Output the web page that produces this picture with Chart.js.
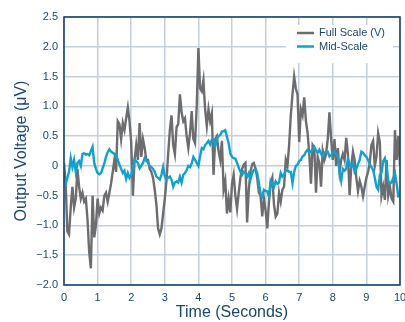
<!DOCTYPE html>
<html>
<head>
<meta charset="utf-8">
<script src="https://cdn.jsdelivr.net/npm/chart.js@4.4.0/dist/chart.umd.min.js"></script>
<style>
  html, body { margin: 0; padding: 0; background: #fff; }
  #wrap { width: 405px; height: 322px; }
</style>
</head>
<body>
<div id="wrap"><canvas id="noiseChart" width="405" height="322"></canvas></div>
<script>
// sample spacing of the traces, seconds
const sampleStep = 0.05;

const xTicks = [0, 1, 2, 3, 4, 5, 6, 7, 8, 9, 10];
const yTicks = [-2.0, -1.5, -1.0, -0.5, 0, 0.5, 1.0, 1.5, 2.0, 2.5];

const seriesNames = ['Full Scale (V)', 'Mid-Scale'];

// output voltage, uV, one value every 0.05 s from 0 to 10 s
const fullScale = [
  0.05, -0.3, -1.1, -1.15, -0.7, -0.35, -0.7, -0.55, -0.05, -0.35,
  -0.55, -0.45, -0.6, -0.55, -0.9, -1.45, -1.72, -0.5, -1.2, -1.0,
  -0.55, -0.8, -0.7, -0.75, -0.5, -0.45, -0.6, -0.45, -0.3, -0.1,
  0.1, -0.1, 0.75, 0.7, 0.45, 0.72, 0.6, 0.8, 0.98, 0.75,
  0.4, -0.5, 0.1, 0.35, 0.1, 0.72, 0.15, 0.45, 0.3, 0.1,
  0.1, -0.05, -0.1, -0.2, -0.4, -0.65, -1.05, -1.15, -1.05, -0.8,
  -0.55, -0.25, 0.2, 0.6, 0.85, 0.35, 0.2, 0.65, 0.7, 1.2,
  0.9, 0.75, 0.8, 0.5, 0.3, 0.55, 0.92, 0.45, 0.38, 1.0,
  1.98, 1.3, 1.25, 1.44, 0.95, 0.67, 0.95, 0.75, 0.88, -0.15,
  0.45, 0.5, 0.25, 0.1, 0.42, -0.4, -0.25, -0.8, -0.55, -0.78,
  -0.3, -0.15, -0.5, -0.72, -0.45, -0.2, -0.05, 0.02, 0.05, -0.95,
  -0.4, -0.1, 0.03, 0.05, -0.05, -0.2, -0.45, -0.5, -0.85, -0.55,
  -0.75, -1.05, -0.6, -0.3, -0.2, -0.65, -0.85, -0.8, -0.45, -0.6,
  -0.4, -0.35, 0.1, 0.0, 0.35, 0.85, 1.2, 1.5, 1.3, 1.2,
  0.4, 0.95, 0.85, 1.15, 0.75, 0.55, 0.2, -0.3, 0.35, 0.3,
  -0.45, 0.15, 0.05, -0.35, 0.25, 0.1, 0.2, 0.45, 0.9, 0.45,
  0.1, 0.45, 0.0, 0.3, -0.1, 0.1, 0.2, 0.1, 0.47, 0.2,
  -0.49, 0.0, 0.24, 0.1, -0.2, -0.42, -0.25, -0.35, -0.51, -0.35,
  -0.2, -0.1, 0.05, 0.35, 0.42, 0.0, 0.15, 0.55, 0.4, -0.5,
  -0.35, -0.57, 0.1, -0.5, -0.35, -0.55, -0.6, 0.6, 0.1, 0.5,
  0.0
];

const midScale = [
  -0.2, -0.3, -0.2, -0.1, 0.13, -0.02, 0.1, -0.1, 0.05, 0.08,
  0.0, 0.2, 0.21, 0.19, 0.2, 0.18, 0.25, 0.32, 0.05, -0.05,
  -0.12, -0.14, -0.12, -0.04, 0.04, 0.15, 0.23, 0.28, 0.24, 0.22,
  0.2, 0.19, 0.1, 0.02, -0.05, -0.12, -0.08, -0.22, -0.12, -0.2,
  -0.15, -0.05, 0.1, 0.08, 0.05, -0.04, 0.0, 0.05, 0.13, 0.08,
  0.06, 0.0, -0.02, -0.05, -0.1, -0.18, -0.2, -0.23, -0.15, -0.02,
  -0.18, -0.22, -0.2, -0.18, -0.23, -0.35, -0.28, -0.26, -0.28, -0.18,
  -0.28, -0.15, -0.12, -0.07, 0.0, -0.02, 0.04, 0.15, 0.1, 0.05,
  0.0, 0.16, 0.3, 0.28, 0.35, 0.38, 0.42, 0.36, 0.44, 0.44,
  0.33, 0.46, 0.5, 0.52, 0.58, 0.58, 0.6, 0.49, 0.38, 0.21,
  0.15, 0.13, 0.12, 0.05, -0.03, -0.1, -0.15, -0.1, -0.12, -0.18,
  -0.12, -0.23, -0.12, -0.07, -0.05, -0.12, -0.29, -0.46, -0.51, -0.4,
  -0.42, -0.43, -0.51, -0.25, -0.3, -0.35, -0.26, -0.3, -0.28, -0.12,
  -0.18, -0.15, -0.07, -0.08, -0.1, -0.1, -0.29, -0.1, 0.0, 0.02,
  0.08, 0.1, 0.16, 0.18, 0.24, 0.27, 0.22, 0.24, 0.28, 0.32,
  0.26, 0.22, 0.27, 0.2, 0.16, 0.22, 0.24, 0.24, 0.16, 0.18,
  0.22, 0.24, 0.2, 0.16, -0.1, -0.25, -0.05, -0.08, -0.05, 0.12,
  0.02, -0.02, 0.05, -0.1, -0.05, 0.03, 0.1, 0.24, 0.22, 0.18,
  0.15, 0.1, 0.03, -0.02, -0.07, -0.2, -0.35, -0.4, -0.15, -0.12,
  0.08, 0.13, -0.02, -0.25, -0.3, -0.28, -0.2, -0.12, -0.3, -0.51,
  -0.5
];

const seriesColors = ['#6d6d70', '#12a1cd'];
const navy = '#1b4571';
const gridColor = '#c3cfdb';
const fontFamily = '"Liberation Sans", Arial, Helvetica, sans-serif';

function toPoints(values) {
  return values.map((v, i) => ({ x: i * sampleStep, y: v }));
}

function fmtVolt(v) {
  if (v === 0) return '0';
  return v.toFixed(1).replace('-', '\u2212');
}

// white legend box sitting inside the plot, plus the dark frame
const frameAndLegend = {
  id: 'frameAndLegend',
  afterDatasetsDraw(chart) {
    const { ctx, chartArea: a } = chart;
    ctx.save();
    ctx.fillStyle = '#fff';
    ctx.fillRect(286, 25, 107, 38);
    ctx.font = '11px ' + fontFamily;
    ctx.textBaseline = 'middle';
    chart.data.datasets.forEach((ds, i) => {
      const y = 33 + i * 13.5;
      ctx.strokeStyle = ds.borderColor;
      ctx.lineWidth = 2.5;
      ctx.beginPath();
      ctx.moveTo(297, y);
      ctx.lineTo(314, y);
      ctx.stroke();
      ctx.fillStyle = navy;
      ctx.fillText(ds.label, 319, y);
    });
    ctx.strokeStyle = navy;
    ctx.lineWidth = 1.6;
    ctx.strokeRect(a.left, a.top, a.right - a.left, a.bottom - a.top);
    ctx.restore();
  }
};

new Chart(document.getElementById('noiseChart').getContext('2d'), {
  type: 'line',
  data: {
    datasets: [
      {
        label: seriesNames[0],
        data: toPoints(fullScale),
        borderColor: seriesColors[0],
        borderWidth: 2.4,
        pointRadius: 0,
        tension: 0,
        order: 2
      },
      {
        label: seriesNames[1],
        data: toPoints(midScale),
        borderColor: seriesColors[1],
        borderWidth: 2.4,
        pointRadius: 0,
        tension: 0,
        order: 1
      }
    ]
  },
  options: {
    responsive: false,
    animation: false,
    layout: { padding: { top: 17, right: 5, left: 0, bottom: 0 } },
    plugins: {
      legend: { display: false },
      tooltip: { enabled: false }
    },
    scales: {
      x: {
        type: 'linear',
        min: 0,
        max: 10,
        afterBuildTicks: (scale) => { scale.ticks = xTicks.map(v => ({ value: v })); },
        afterFit: (scale) => {
          scale.height = 37;
          scale.paddingRight = 0;
        },
        grid: { color: gridColor, lineWidth: 1.5, drawTicks: false },
        border: { display: false },
        ticks: {
          color: navy,
          padding: 6,
          maxRotation: 0,
          font: { size: 11, family: fontFamily },
          callback: (v) => String(v)
        },
        title: {
          display: true,
          text: 'Time (Seconds)',
          color: navy,
          padding: { top: 0, bottom: 0 },
          font: { size: 16, family: fontFamily }
        }
      },
      y: {
        min: -2,
        max: 2.5,
        afterBuildTicks: (scale) => { scale.ticks = yTicks.map(v => ({ value: v })); },
        afterFit: (scale) => { scale.width = 64; },
        grid: { color: gridColor, lineWidth: 1.5, drawTicks: false },
        border: { display: false },
        ticks: {
          color: navy,
          padding: 6,
          font: { size: 11, family: fontFamily },
          callback: (v) => fmtVolt(v)
        },
        title: {
          display: true,
          text: 'Output Voltage (\u03bcV)',
          color: navy,
          padding: { top: 12, bottom: 0 },
          font: { size: 16, family: fontFamily }
        }
      }
    }
  },
  plugins: [frameAndLegend]
});
</script>
</body>
</html>
